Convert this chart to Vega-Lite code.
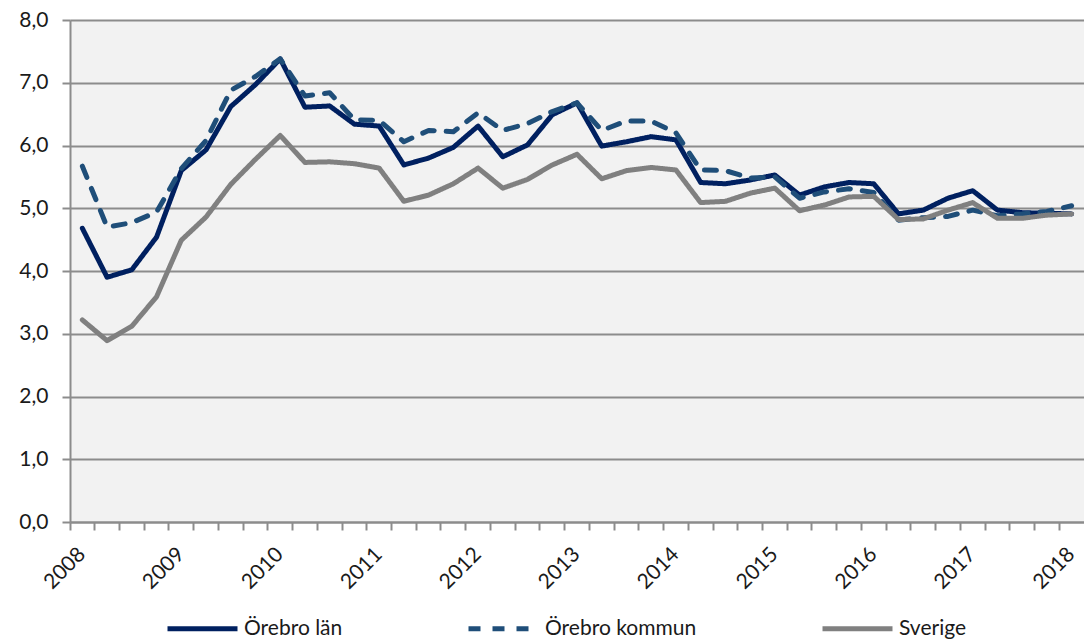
{
  "$schema": "https://vega.github.io/schema/vega-lite/v6.json",
  "width": 1014,
  "height": 502,
  "autosize": {"type": "none"},
  "padding": {"left": 70, "top": 20, "right": 0, "bottom": 117},
  "background": "white",
  "config": {
    "view": {"fill": "#f2f2f2", "stroke": null},
    "font": "Lato",
    "axis": {"labelFont": "Lato", "labelFontSize": 21, "labelColor": "#1a1a1a", "domainColor": "#8c8c8c", "domainWidth": 2, "tickColor": "#8c8c8c", "tickWidth": 2, "gridColor": "#8c8c8c", "gridWidth": 2, "gridOpacity": 1},
    "legend": {"labelFont": "Lato", "labelFontSize": 21, "labelColor": "#1a1a1a"}
  },
  "data": {
    "values": [
      {"q": "2008 K1", "Örebro län": 4.68, "Örebro kommun": 5.67, "Sverige": 3.22},
      {"q": "2008 K2", "Örebro län": 3.90, "Örebro kommun": 4.70, "Sverige": 2.89},
      {"q": "2008 K3", "Örebro län": 4.02, "Örebro kommun": 4.77, "Sverige": 3.12},
      {"q": "2008 K4", "Örebro län": 4.54, "Örebro kommun": 4.94, "Sverige": 3.59},
      {"q": "2009 K1", "Örebro län": 5.60, "Örebro kommun": 5.63, "Sverige": 4.49},
      {"q": "2009 K2", "Örebro län": 5.93, "Örebro kommun": 6.08, "Sverige": 4.86},
      {"q": "2009 K3", "Örebro län": 6.62, "Örebro kommun": 6.88, "Sverige": 5.38},
      {"q": "2009 K4", "Örebro län": 6.97, "Örebro kommun": 7.10, "Sverige": 5.78},
      {"q": "2010 K1", "Örebro län": 7.38, "Örebro kommun": 7.38, "Sverige": 6.16},
      {"q": "2010 K2", "Örebro län": 6.61, "Örebro kommun": 6.79, "Sverige": 5.73},
      {"q": "2010 K3", "Örebro län": 6.63, "Örebro kommun": 6.84, "Sverige": 5.74},
      {"q": "2010 K4", "Örebro län": 6.34, "Örebro kommun": 6.41, "Sverige": 5.71},
      {"q": "2011 K1", "Örebro län": 6.31, "Örebro kommun": 6.40, "Sverige": 5.64},
      {"q": "2011 K2", "Örebro län": 5.69, "Örebro kommun": 6.06, "Sverige": 5.11},
      {"q": "2011 K3", "Örebro län": 5.80, "Örebro kommun": 6.24, "Sverige": 5.21},
      {"q": "2011 K4", "Örebro län": 5.97, "Örebro kommun": 6.22, "Sverige": 5.39},
      {"q": "2012 K1", "Örebro län": 6.31, "Örebro kommun": 6.52, "Sverige": 5.64},
      {"q": "2012 K2", "Örebro län": 5.82, "Örebro kommun": 6.24, "Sverige": 5.32},
      {"q": "2012 K3", "Örebro län": 6.01, "Örebro kommun": 6.35, "Sverige": 5.46},
      {"q": "2012 K4", "Örebro län": 6.49, "Örebro kommun": 6.54, "Sverige": 5.69},
      {"q": "2013 K1", "Örebro län": 6.68, "Örebro kommun": 6.68, "Sverige": 5.86},
      {"q": "2013 K2", "Örebro län": 5.99, "Örebro kommun": 6.24, "Sverige": 5.47},
      {"q": "2013 K3", "Örebro län": 6.06, "Örebro kommun": 6.39, "Sverige": 5.60},
      {"q": "2013 K4", "Örebro län": 6.14, "Örebro kommun": 6.39, "Sverige": 5.65},
      {"q": "2014 K1", "Örebro län": 6.09, "Örebro kommun": 6.20, "Sverige": 5.61},
      {"q": "2014 K2", "Örebro län": 5.41, "Örebro kommun": 5.61, "Sverige": 5.09},
      {"q": "2014 K3", "Örebro län": 5.39, "Örebro kommun": 5.60, "Sverige": 5.11},
      {"q": "2014 K4", "Örebro län": 5.45, "Örebro kommun": 5.48, "Sverige": 5.24},
      {"q": "2015 K1", "Örebro län": 5.53, "Örebro kommun": 5.50, "Sverige": 5.32},
      {"q": "2015 K2", "Örebro län": 5.21, "Örebro kommun": 5.16, "Sverige": 4.96},
      {"q": "2015 K3", "Örebro län": 5.34, "Örebro kommun": 5.26, "Sverige": 5.05},
      {"q": "2015 K4", "Örebro län": 5.41, "Örebro kommun": 5.31, "Sverige": 5.18},
      {"q": "2016 K1", "Örebro län": 5.39, "Örebro kommun": 5.25, "Sverige": 5.19},
      {"q": "2016 K2", "Örebro län": 4.91, "Örebro kommun": 4.81, "Sverige": 4.82},
      {"q": "2016 K3", "Örebro län": 4.97, "Örebro kommun": 4.85, "Sverige": 4.83},
      {"q": "2016 K4", "Örebro län": 5.16, "Örebro kommun": 4.87, "Sverige": 4.97},
      {"q": "2017 K1", "Örebro län": 5.28, "Örebro kommun": 4.97, "Sverige": 5.09},
      {"q": "2017 K2", "Örebro län": 4.97, "Örebro kommun": 4.88, "Sverige": 4.84},
      {"q": "2017 K3", "Örebro län": 4.93, "Örebro kommun": 4.91, "Sverige": 4.84},
      {"q": "2017 K4", "Örebro län": 4.92, "Örebro kommun": 4.95, "Sverige": 4.89},
      {"q": "2018 K1", "Örebro län": 4.91, "Örebro kommun": 5.04, "Sverige": 4.91}
    ]
  },
  "transform": [
    {"fold": ["Örebro län", "Örebro kommun", "Sverige"], "as": ["serie", "v"]}
  ],
  "mark": {"type": "line", "strokeWidth": 5, "strokeJoin": "round", "strokeCap": "round"},
  "encoding": {
    "x": {
      "field": "q", "type": "ordinal", "sort": null,
      "scale": {"type": "band", "paddingInner": 0, "paddingOuter": 0},
      "axis": {
        "title": null, "bandPosition": 0, "tickSize": 8, "labelAngle": -45, "labelAlign": "right", "labelBaseline": "middle",
        "labelOffset": 0, "labelPadding": 21, "labelOverlap": false, "labelBound": false,
        "labelExpr": "indexof(datum.value, 'K1') >= 0 ? slice(datum.value, 0, 4) : ''"
      }
    },
    "y": {
      "field": "v", "type": "quantitative",
      "scale": {"domain": [0, 8], "nice": false},
      "axis": {
        "title": null, "values": [0, 1, 2, 3, 4, 5, 6, 7, 8], "tickSize": 8, "labelPadding": 14,
        "labelExpr": "replace(format(datum.value, '.1f'), '.', ',')"
      }
    },
    "color": {
      "field": "serie", "type": "nominal",
      "scale": {"domain": ["Örebro län", "Örebro kommun", "Sverige"], "range": ["#002060", "#1f4e79", "#808080"]},
      "legend": {
        "title": null, "orient": "none", "direction": "horizontal", "legendX": 95, "legendY": 571,
        "symbolType": "stroke", "symbolSize": 4900, "symbolStrokeWidth": 5, "labelOffset": 4, "columnPadding": 115
      }
    },
    "strokeDash": {
      "field": "serie", "type": "nominal",
      "scale": {"domain": ["Örebro län", "Örebro kommun", "Sverige"], "range": [[1, 0], [12, 12], [1, 0]]},
      "legend": {
        "title": null, "orient": "none", "direction": "horizontal", "legendX": 95, "legendY": 571,
        "symbolType": "stroke", "symbolSize": 4900, "symbolStrokeWidth": 5, "labelOffset": 4, "columnPadding": 115
      }
    }
  }
}
